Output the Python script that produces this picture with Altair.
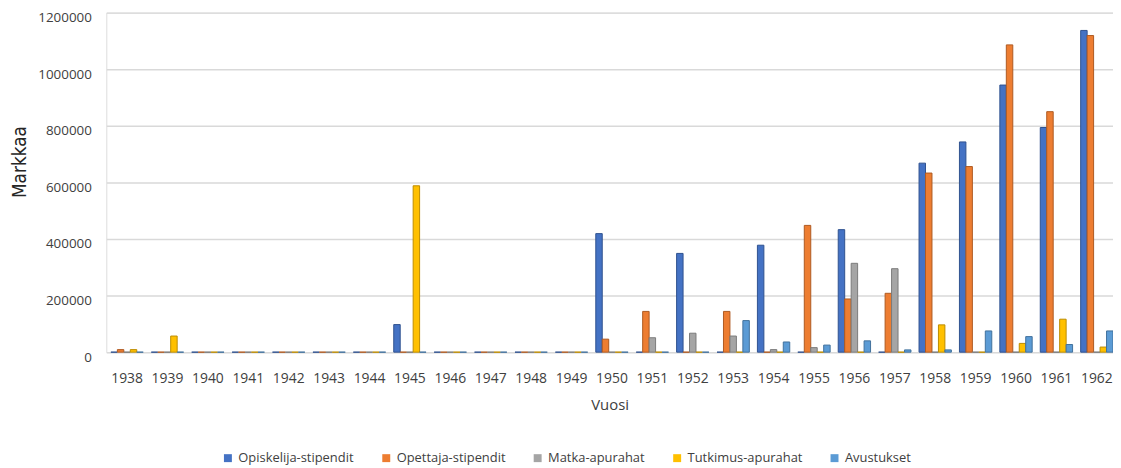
import altair as alt
import pandas as pd

years = [str(y) for y in range(1938, 1963)]
series_names = ["Opiskelija-stipendit", "Opettaja-stipendit", "Matka-apurahat",
                "Tutkimus-apurahat", "Avustukset"]

opiskelija = [0, 0, 0, 0, 0, 0, 0, 97500, 0, 0, 0, 0, 419000, 0, 349000, 0,
              378000, 0, 433000, 0, 668000, 743000, 944000, 794000, 1137000]
opettaja = [9000, 0, 0, 0, 0, 0, 0, 0, 0, 0, 0, 0, 46000, 144000, 0, 144000,
            0, 448000, 188000, 208000, 633000, 656000, 1086000, 850000, 1119000]
matka = [0, 0, 0, 0, 0, 0, 0, 0, 0, 0, 0, 0, 0, 51000, 67000, 57000,
         9000, 16000, 314000, 295000, 0, 0, 0, 0, 0]
tutkimus = [9000, 57000, 0, 0, 0, 0, 0, 588000, 0, 0, 0, 0, 0, 0, 0, 0,
            0, 0, 0, 0, 96500, 0, 31000, 116500, 18000]
avustukset = [0, 0, 0, 0, 0, 0, 0, 0, 0, 0, 0, 0, 0, 0, 0, 111600,
              36000, 25000, 40000, 8000, 8000, 75000, 55000, 27000, 75000]

fill_colors = ["#4472C4", "#ED7D31", "#A5A5A5", "#FFC000", "#5B9BD5"]
edge_colors = ["#2F528F", "#AE5A21", "#7B7B7B", "#BC8C00", "#41719C"]

rows = []
for name, vals in zip(series_names, [opiskelija, opettaja, matka, tutkimus, avustukset]):
    for y, v in zip(years, vals):
        rows.append({"Vuosi": y, "sarja": name, "Markkaa": v})
df = pd.DataFrame(rows)

font = "Open Sans"
narrow = "Liberation Sans Narrow, DejaVu Sans Condensed, Roboto Condensed, Roboto, sans-serif"

chart = alt.Chart(df).mark_bar(strokeWidth=1).encode(
    x=alt.X("Vuosi:N", sort=years, title="Vuosi",
            scale=alt.Scale(paddingInner=0.2, paddingOuter=0.057, align=1),
            axis=alt.Axis(labelAngle=0, labelFont=font, labelFontSize=14,
                          labelColor="#404040", labelPadding=20, ticks=False,
                          domain=False, titleFont=font, titleFontSize=15,
                          titleFontWeight="normal", titleColor="#404040",
                          titlePadding=12)),
    xOffset=alt.XOffset("sarja:N", sort=series_names,
                        scale=alt.Scale(paddingInner=0.0)),
    y=alt.Y("Markkaa:Q", title="Markkaa",
            scale=alt.Scale(domain=[0, 1200000], nice=False),
            axis=alt.Axis(values=[0, 200000, 400000, 600000, 800000, 1000000, 1200000],
                          format="d", labelFont=font, labelFontSize=13.5,
                          labelColor="#404040", labelPadding=15, labelOffset=5,
                          ticks=False, domain=False, gridColor="#D9D9D9", gridWidth=1.5,
                          titleFont=narrow, titleFontSize=19,
                          titleFontWeight="normal", titleColor="#262626",
                          titleX=-87, titleY=150, titleAngle=270,
                          titleAlign="center", titleBaseline="middle")),
    color=alt.Color("sarja:N", sort=series_names,
                    scale=alt.Scale(domain=series_names, range=fill_colors),
                    legend=alt.Legend(title=None, orient="none", direction="horizontal",
                                      legendX=116, legendY=442, symbolType="square",
                                      symbolSize=64, symbolStrokeWidth=0,
                                      labelFont=font, labelFontSize=13,
                                      labelColor="#404040", labelOffset=4,
                                      columnPadding=25.5, padding=0)),
    stroke=alt.Stroke("sarja:N", sort=series_names,
                      scale=alt.Scale(domain=series_names, range=edge_colors),
                      legend=None),
).properties(
    width=1014, height=342,
    autosize=alt.AutoSizeParams(type="none"),
    padding={"left": 99, "top": 3, "right": 0, "bottom": 113},
).configure_view(stroke=None).configure(background="white")

chart.save("out.html", embed_options={"renderer": "svg", "actions": False})
